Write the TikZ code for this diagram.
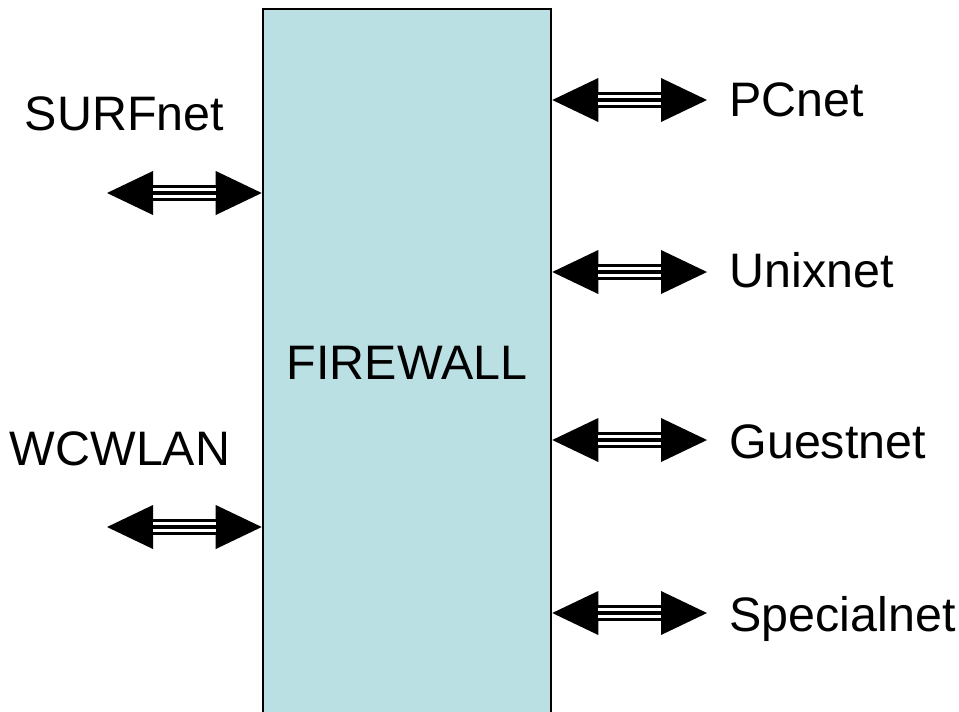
\documentclass[tikz,border=0pt]{standalone}
\usepackage{fontspec}
\setmainfont{Liberation Sans}
\usetikzlibrary{arrows.meta}

\definecolor{fwfill}{RGB}{187,224,227}

\tikzset{every picture/.style={line width=0.75pt}}
\tikzset{
	fwbox/.style={draw=black, line width=1.9pt, fill=fwfill, rectangle, inner sep=0pt},
	netlabel/.style={font=\fontsize{36.3}{43}\selectfont, inner sep=0pt},
	netlink/.style={draw=black, line width=12.5pt,
		{Triangle[length=34.5pt,width=33pt,line width=0pt]}-{Triangle[length=34.5pt,width=33pt,line width=0pt]},
		postaction={draw=white, line width=7.5pt, shorten <=34.5pt, shorten >=34.5pt, -},
		postaction={draw=black, line width=3pt, shorten <=34.5pt, shorten >=34.5pt, -}}
}

\begin{document}
\begin{tikzpicture}[x=0.75pt,y=0.75pt,yscale=-1,xscale=1]
	\useasboundingbox (0,0) rectangle (959,711);
	\clip (0,0) rectangle (959,711);

	%Shape: Rectangle [firewall]
	\node[fwbox, minimum width=216pt, minimum height=548.25pt] (fw) at (407,374.5) {};

	%Arrow ends
	\coordinate (surf) at (107,193);
	\coordinate (wcw) at (107,527);
	\coordinate (pc) at (707,100);
	\coordinate (unix) at (707,272);
	\coordinate (guest) at (707,440);
	\coordinate (special) at (707,613);

	%Straight Lines [links]
	\draw[netlink] (surf) -- (surf -| fw.west);
	\draw[netlink] (wcw) -- (wcw -| fw.west);
	\draw[netlink] (pc -| fw.east) -- (pc);
	\draw[netlink] (unix -| fw.east) -- (unix);
	\draw[netlink] (guest -| fw.east) -- (guest);
	\draw[netlink] (special -| fw.east) -- (special);

	% Text Node
	\node[netlabel, anchor=base] (fwname) at (407,379) {FIREWALL};
	% Text Node
	\node[netlabel, anchor=base] (surfnet) at (124.5,130) {SURFnet};
	% Text Node
	\node[netlabel, anchor=base] (wcwlan) at (120,465) {WCWLAN};
	% Text Node
	\node[netlabel, anchor=base west] (pcnet) at (729,116) {PCnet};
	% Text Node
	\node[netlabel, anchor=base west] (unixnet) at (729,287) {Unixnet};
	% Text Node
	\node[netlabel, anchor=base west] (guestnet) at (729,458) {Guestnet};
	% Text Node
	\node[netlabel, anchor=base west] (specialnet) at (729,631) {Specialnet};

\end{tikzpicture}
\end{document}
